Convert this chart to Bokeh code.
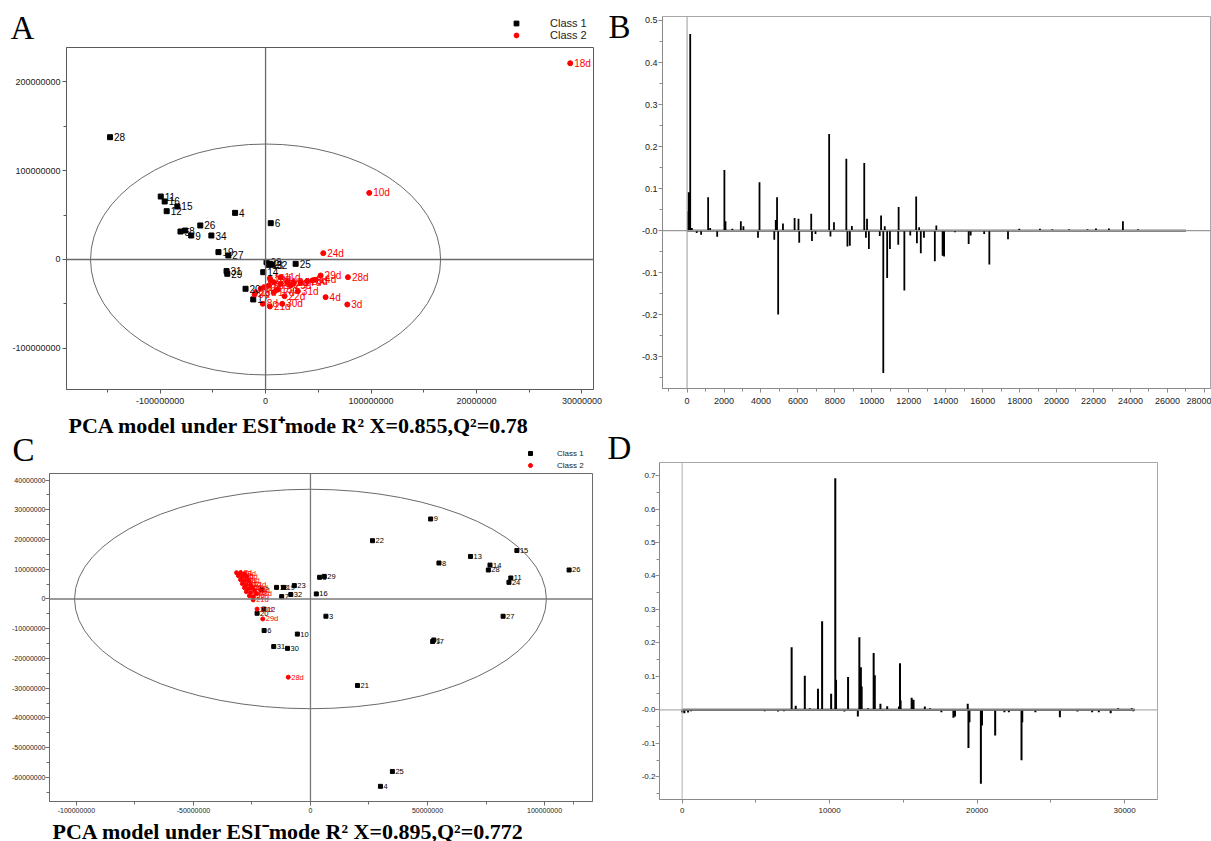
from bokeh.plotting import figure
from bokeh.layouts import column, row
from bokeh.models import (FixedTicker, Span, Legend, LegendItem, ColumnDataSource, Range1d)
from bokeh.embed import file_html
from bokeh.resources import INLINE
from bokeh.core.properties import value

NAN = float("nan")

# ---------------- DATA ----------------
# Panel A : PCA scores, ESI+ mode
A_c1_labels = ["28", "11", "16", "15", "12", "4", "6", "26", "5", "8", "9", "34", "19", "27",
               "23", "13", "2", "32", "25", "14", "31", "29", "20", "17"]
A_c1_x = [-1.475e8, -0.994e8, -0.957e8, -0.837e8, -0.938e8, -0.289e8, 0.049e8, -0.619e8,
          -0.807e8, -0.762e8, -0.705e8, -0.514e8, -0.447e8, -0.353e8,
          0.009e8, 0.022e8, 0.041e8, 0.063e8, 0.285e8, -0.022e8, -0.37e8, -0.363e8, -0.19e8, -0.117e8]
A_c1_y = [1.377e8, 0.709e8, 0.653e8, 0.597e8, 0.544e8, 0.525e8, 0.409e8, 0.383e8,
          0.315e8, 0.326e8, 0.270e8, 0.270e8, 0.083e8, 0.045e8,
          -0.03e8, -0.06e8, -0.049e8, -0.06e8, -0.049e8, -0.143e8, -0.131e8, -0.161e8, -0.33e8, -0.45e8]
A_c2_labels = ["18d", "10d", "24d", "29d", "28d", "14d", "19d", "11d", "31d", "4d", "3d", "22d",
               "30d", "21d", "8d", "12d", "6d", "13d", "2d", "27d", "20d", "5d", "16d", "26d",
               "9d", "1d", "7d", "17d", "15d", "23d", "25d"]
A_c2_x = [2.889e8, 0.983e8, 0.547e8, 0.522e8, 0.781e8, 0.474e8, 0.041e8, 0.142e8, 0.306e8,
          0.569e8, 0.775e8, 0.18e8, 0.158e8, 0.041e8, -0.026e8, 0.079e8, 0.142e8, 0.206e8,
          0.269e8, 0.332e8, 0.395e8, 0.443e8, -0.047e8, -0.095e8, -0.104e8, -0.016e8, 0.031e8,
          0.079e8, 0.111e8, 0.047e8, 0.237e8]
A_c2_y = [2.21e8, 0.750e8, 0.071e8, -0.18e8, -0.199e8, -0.229e8, -0.21e8, -0.199e8, -0.357e8,
          -0.424e8, -0.507e8, -0.413e8, -0.499e8, -0.529e8, -0.499e8, -0.256e8, -0.274e8,
          -0.256e8, -0.263e8, -0.256e8, -0.244e8, -0.236e8, -0.33e8, -0.368e8, -0.394e8,
          -0.312e8, -0.293e8, -0.368e8, -0.341e8, -0.236e8, -0.293e8]
A_ellipse = [0.0, 0.0, 1.66e8, 1.30e8]          # centre x, centre y, semi-axis x, semi-axis y
A_xticks = [-1e8, 0, 1e8, 2e8, 3e8]
A_xtick_labels = ["-100000000", "0", "100000000", "20000000", "30000000"]
A_yticks = [-1e8, 0, 1e8, 2e8]
A_ytick_labels = ["-100000000", "0", "100000000", "200000000"]
A_caption = "PCA model under ESI\u207amode R\u00b2 X=0.855,Q\u00b2=0.78"

# Panel B : loadings, ESI+ mode (variable index, loading)
B_x = [60, 85, 170, 260, 520, 760, 1140, 1250, 1630, 2020, 2080, 2450, 2910, 3050, 3840, 3920,
       4720, 4800, 4870, 4930, 5190, 5820, 6030, 6070, 6720, 6760, 6950, 7690, 7760, 7950,
       8620, 8680, 8810, 8920, 9590, 9680, 9740, 9840, 10430, 10500, 10620, 10700, 10830,
       10980, 11430, 11450, 11760, 12080, 12400, 12440, 12560, 12650, 12820, 13410, 13490,
       13830, 13910, 14500, 15240, 15350, 16080, 16360, 17370, 17980, 19100, 19770, 20680,
       21670, 22130, 22830, 23590, 24410, 25360, 26270]
B_h = [0.046, 0.091, 0.468, 0.006, -0.006, -0.010, 0.079, 0.006, -0.015, 0.144, 0.022, 0.004,
       0.022, 0.010, -0.017, 0.115, -0.022, 0.025, 0.079, -0.200, 0.017, 0.030, 0.028, -0.029,
       0.040, -0.025, -0.008, 0.230, -0.014, 0.020, 0.171, -0.038, -0.036, 0.011, 0.161,
       -0.017, 0.028, -0.044, -0.013, 0.036, -0.339, 0.010, -0.113, -0.044, -0.034, 0.056,
       -0.143, -0.012, 0.081, -0.030, 0.008, -0.054, -0.017, -0.073, 0.012, -0.060, -0.062,
       -0.004, -0.032, -0.012, -0.008, -0.081, -0.021, 0.004, 0.004, 0.003, 0.003, 0.003,
       0.005, 0.005, 0.022, 0.003, 0.002, 0.002]
B_end = 27000
B_xticks = list(range(0, 28001, 2000))
B_xtick_labels = [str(v) for v in B_xticks]
B_yticks = [-0.3, -0.2, -0.1, 0.0, 0.1, 0.2, 0.3, 0.4, 0.5]
B_ytick_labels = ["-0.3", "-0.2", "-0.1", "-0.0", "0.1", "0.2", "0.3", "0.4", "0.5"]

# Panel C : PCA scores, ESI- mode
C_c1_labels = ["9", "22", "15", "13", "8", "14", "28", "26", "11", "24", "5", "29", "23", "19",
               "18", "2", "32", "7", "16", "3", "27", "20", "12", "6", "10", "1", "17", "31",
               "30", "21", "25", "4"]
C_c1_x = [51.35e6, 26.5e6, 88.2e6, 68.4e6, 54.9e6, 76.7e6, 76.0e6, 110.5e6, 85.6e6, 84.8e6,
          3.9e6, 5.9e6, -6.9e6, -11.5e6, -14.5e6, -20.8e6, -8.4e6, -12.3e6, 2.5e6, 6.6e6,
          82.3e6, -22.8e6, -19.9e6, -19.8e6, -5.6e6, 52.7e6, 52.2e6, -15.7e6, -9.8e6, 20.1e6,
          35.0e6, 29.9e6]
C_c1_y = [26.9e6, 19.6e6, 16.3e6, 14.3e6, 12.1e6, 11.4e6, 9.75e6, 9.75e6, 7.06e6, 5.6e6,
          7.3e6, 7.6e6, 4.5e6, 3.9e6, 3.9e6, 3.1e6, 1.5e6, 0.8e6, 1.7e6, -5.8e6, -5.8e6, -4.8e6,
          -3.4e6, -10.6e6, -11.8e6, -13.8e6, -14.3e6, -16.0e6, -16.6e6, -29.1e6, -58.0e6, -63.0e6]
C_c2_labels = ["28d", "29d", "21d", "20d", "1d", "2d", "3d", "4d", "5d", "6d", "7d", "8d", "9d",
               "10d", "11d", "12d", "13d", "14d", "15d", "16d", "17d", "18d", "19d", "22d", "23d"]
C_c2_x = [-9.5e6, -20.4e6, -24.5e6, -22.8e6, -31.6e6, -29.9e6, -28.2e6, -30.8e6, -29.1e6,
          -27.4e6, -29.9e6, -28.2e6, -26.5e6, -29.1e6, -27.4e6, -25.6e6, -28.2e6, -26.5e6,
          -24.8e6, -27.4e6, -25.6e6, -23.9e6, -26.1e6, -24.4e6, -23.1e6]
C_c2_y = [-26.3e6, -6.7e6, -0.3e6, -3.4e6, 8.85e6, 8.85e6, 8.5e6, 7.84e6, 7.5e6, 7.5e6, 6.5e6,
          6.16e6, 6.16e6, 5.15e6, 4.8e6, 4.8e6, 3.8e6, 3.46e6, 3.8e6, 2.46e6, 2.1e6, 2.8e6,
          1.1e6, 0.77e6, 1.78e6]
C_ellipse = [0.0, 0.0, 100.8e6, 36.9e6]
C_xticks = [-100e6, -50e6, 0, 50e6, 100e6]
C_xtick_labels = ["-100000000", "-50000000", "0", "50000000", "100000000"]
C_yticks = [-60e6, -50e6, -40e6, -30e6, -20e6, -10e6, 0, 10e6, 20e6, 30e6, 40e6]
C_ytick_labels = ["-60000000", "-50000000", "-40000000", "-30000000", "-20000000", "-10000000",
                  "0", "10000000", "20000000", "30000000", "40000000"]
C_caption = "PCA model under ESI\u207bmode R\u00b2 X=0.895,Q\u00b2=0.772"

# Panel D : loadings, ESI- mode
D_x = [0, 150, 400, 600, 2100, 3700, 4800, 5600, 6500, 6900, 7423, 7700, 8316, 8650, 9209, 9490,
       10102, 10383, 10433, 11000, 11250, 11913, 12015, 12117, 12170, 12600, 12985, 13061,
       13444, 13903, 14700, 14770, 14810, 15561, 15689, 16454, 16800, 17577, 18393, 18500,
       19362, 19413, 19480, 20255, 20330, 21224, 21850, 22150, 23010, 23060, 23950, 25612,
       26800, 27800, 28250, 28673, 29056, 29560, 30485, 30587]
D_h = [-0.008, -0.010, -0.008, -0.004, -0.002, -0.002, -0.003, -0.004, -0.005, -0.004, 0.187,
       0.012, 0.102, 0.005, 0.063, 0.265, 0.048, 0.692, 0.090, -0.005, 0.098, -0.020, 0.217,
       0.127, 0.070, 0.005, 0.170, 0.103, 0.018, 0.011, 0.010, 0.139, 0.028, 0.036, 0.030,
       0.010, 0.005, -0.007, -0.024, -0.020, 0.018, -0.114, -0.037, -0.221, -0.047, -0.077,
       -0.007, -0.007, -0.151, -0.037, -0.007, -0.022, -0.005, -0.007, -0.007, 0.003, -0.010,
       0.005, 0.005, -0.004]
D_end = 30700
D_xticks = [0, 10000, 20000, 30000]
D_xtick_labels = ["0", "10000", "20000", "30000"]
D_yticks = [-0.2, -0.1, 0.0, 0.1, 0.2, 0.3, 0.4, 0.5, 0.6, 0.7]
D_ytick_labels = ["-0.2", "-0.1", "-0.0", "0.1", "0.2", "0.3", "0.4", "0.5", "0.6", "0.7"]

legend_labels = ["Class 1", "Class 2"]
panel_letters = ["A", "B", "C", "D"]

SANS = "Liberation Sans"
SERIF = "Liberation Serif"


def make_fig(w, h, bl, br, bt, bb, xr, yr, outline):
    p = figure(width=w, height=h, x_range=Range1d(*xr), y_range=Range1d(*yr),
               output_backend="svg", toolbar_location=None,
               min_border_left=bl, min_border_right=br, min_border_top=bt, min_border_bottom=bb)
    p.grid.visible = False
    p.outline_line_color = outline
    p.outline_line_width = 1
    p.background_fill_color = "white"
    p.border_fill_color = "white"
    return p


def blank_fig(w, h):
    p = figure(width=w, height=h, x_range=Range1d(0, w), y_range=Range1d(0, h),
               output_backend="svg", toolbar_location=None, min_border=0,
               x_axis_location=None, y_axis_location=None)
    p.grid.visible = False
    p.outline_line_color = None
    p.background_fill_color = "white"
    p.border_fill_color = "white"
    return p


def style_axes(p, xticks, xlabels, yticks, ylabels, xminor, yminor, fs, color, xstand, ystand):
    p.xaxis.ticker = FixedTicker(ticks=xticks, minor_ticks=xminor)
    p.yaxis.ticker = FixedTicker(ticks=yticks, minor_ticks=yminor)
    p.xaxis.major_label_overrides = {t: l for t, l in zip(xticks, xlabels)}
    p.yaxis.major_label_overrides = {t: l for t, l in zip(yticks, ylabels)}
    for ax in (p.xaxis[0], p.yaxis[0]):
        ax.axis_line_color = color
        ax.major_tick_line_color = color
        ax.minor_tick_line_color = color
        ax.major_tick_in = 0
        ax.minor_tick_in = 0
        ax.major_tick_out = 4
        ax.minor_tick_out = 3
        ax.major_label_text_font = SANS
        ax.major_label_text_font_size = fs
        ax.major_label_text_color = "#222222"
    p.xaxis.major_label_standoff = xstand
    p.yaxis.major_label_standoff = ystand


def put_text(p, x, y, txt, size, font, style="normal"):
    # y is the vertical middle of the text
    p.text(x=[x], y=[y], text=[txt], text_font=value(font), text_font_size=size,
           text_font_style=style, text_color="black", text_baseline="middle")


def put_legend(p, loc, fs, gw, gh, standoff, msize):
    r1 = p.scatter(x=[NAN], y=[NAN], marker="square", size=msize, color="black")
    r2 = p.scatter(x=[NAN], y=[NAN], marker="circle", size=msize, color="#ff0000")
    leg = Legend(items=[LegendItem(label=legend_labels[0], renderers=[r1]),
                        LegendItem(label=legend_labels[1], renderers=[r2])],
                 location=loc, orientation="vertical", padding=0, margin=0, spacing=0,
                 glyph_width=gw, glyph_height=gh, label_height=gh,
                 label_standoff=standoff, label_text_font=SANS,
                 label_text_font_size=fs, label_text_color="#222222",
                 border_line_color=None, background_fill_alpha=0)
    p.add_layout(leg)


def scores(p, c1x, c1y, c1l, c2x, c2y, c2l, ell, msize, fs, xoff, zero_color):
    p.add_layout(Span(location=0, dimension="height", line_color=zero_color, line_width=1.3))
    p.add_layout(Span(location=0, dimension="width", line_color=zero_color, line_width=1.3))
    p.ellipse(x=[ell[0]], y=[ell[1]], width=[2 * ell[2]], height=[2 * ell[3]],
              fill_color=None, line_color="#6a6a6a", line_width=1)
    s1 = ColumnDataSource(dict(x=c1x, y=c1y, t=c1l))
    s2 = ColumnDataSource(dict(x=c2x, y=c2y, t=c2l))
    p.scatter("x", "y", source=s1, marker="square", size=msize, color="black")
    p.scatter("x", "y", source=s2, marker="circle", size=msize, color="#ff0000")
    p.text("x", "y", text="t", source=s1, x_offset=xoff, text_baseline="middle",
           text_font=value(SANS), text_font_size=fs, text_color="black")
    p.text("x", "y", text="t", source=s2, x_offset=xoff, text_baseline="middle",
           text_font=value(SANS), text_font_size=fs, text_color="#ff0000")


def spectrum(p, xs, hs, end, zero_color, lw):
    px, py = [0], [0]
    for x, h in zip(xs, hs):
        px += [x, x, x]
        py += [0, h, 0]
    px.append(end)
    py.append(0)
    p.add_layout(Span(location=0, dimension="height", line_color=zero_color, line_width=1))
    p.add_layout(Span(location=0, dimension="width", line_color=zero_color, line_width=1.3))
    p.line(px, py, line_color="black", line_width=lw)


# ---------------- Left column: panels A and C (606 wide) ----------------
hA = blank_fig(606, 46)
put_text(hA, 10, 18.6, panel_letters[0], "33px", SERIF)
put_legend(hA, (510, 5), "11px", 12, 12, 28, 5)

pA = make_fig(606, 364, 66, 13, 1, 21, (-1.888e8, 3.11e8), (-1.464e8, 2.387e8), "#5a5a5a")
style_axes(pA, A_xticks, A_xtick_labels, A_yticks, A_ytick_labels,
           [-1.5e8, -0.5e8, 0.5e8, 1.5e8, 2.5e8], [-1.5e8, -0.5e8, 0.5e8, 1.5e8],
           "9px", "#5a5a5a", 4, 2)
scores(pA, A_c1_x, A_c1_y, A_c1_labels, A_c2_x, A_c2_y, A_c2_labels, A_ellipse,
       5, "10px", 4, "#6a6a6a")

# strip holding letter C, beside the caption of A and the legend of C
sC = blank_fig(45, 63)
put_text(sC, 12, 24, panel_letters[2], "33px", SERIF)

fA = blank_fig(561, 26)
put_text(fA, 23, 11.5, A_caption, "22px", SERIF, "bold")

hC = blank_fig(561, 37)
put_legend(hC, (480, 2), "8px", 10, 12, 22, 4)

pC = make_fig(606, 343, 49, 14, 0, 15, (-111.5e6, 120.5e6), (-68.1e6, 42.2e6), "#6a6a6a")
style_axes(pC, C_xticks, C_xtick_labels, C_yticks, C_ytick_labels,
           [-75e6, -25e6, 25e6, 75e6, 112.5e6],
           [-65e6, -55e6, -45e6, -35e6, -25e6, -15e6, -5e6, 5e6, 15e6, 25e6, 35e6],
           "7px", "#6a6a6a", 2, 0)
scores(pC, C_c1_x, C_c1_y, C_c1_labels, C_c2_x, C_c2_y, C_c2_labels, C_ellipse,
       4, "7.5px", 3, "#7a7a7a")

fC = blank_fig(606, 25)
put_text(fC, 52, 10.5, C_caption, "22px", SERIF, "bold")

# ---------------- Right column: panels B and D (605 wide) ----------------
sB = blank_fig(32, 426)
put_text(sB, 2, 400, panel_letters[1], "33px", SERIF)

pB = make_fig(573, 426, 24, 1, 16, 38, (-1330, 28330), (-0.376, 0.5095), "#a8a8a8")
style_axes(pB, B_xticks, B_xtick_labels, B_yticks, B_ytick_labels,
           list(range(-1000, 28001, 1000)),
           [-0.35, -0.25, -0.15, -0.05, 0.05, 0.15, 0.25, 0.35, 0.45],
           "9px", "#8a8a8a", 5, 1)
spectrum(pB, B_x, B_h, B_end, "#9a9a9a", 1.8)

sD = blank_fig(32, 415)
put_text(sD, 1, 394, panel_letters[3], "33px", SERIF)

pD = make_fig(573, 415, 20, 54, 36, 42, (-1536, 32230), (-0.268, 0.739), "#a8a8a8")
style_axes(pD, D_xticks, D_xtick_labels, D_yticks, D_ytick_labels,
           [5000, 15000, 25000],
           [-0.25, -0.15, -0.05, 0.05, 0.15, 0.25, 0.35, 0.45, 0.55, 0.65],
           "8px", "#8a8a8a", 4, 0)
spectrum(pD, D_x, D_h, D_end, "#b0b0b0", 2)

# every figure is wrapped in its own row so the layout does not align their frames
middle = row(row(sC), column(row(fA), row(hC)))
left = column(row(hA), row(pA), middle, row(pC), row(fC))
right = column(row(row(sB), row(pB)), row(row(sD), row(pD)))
layout = row(left, right)
open("out.html", "w").write(file_html(layout, INLINE))
